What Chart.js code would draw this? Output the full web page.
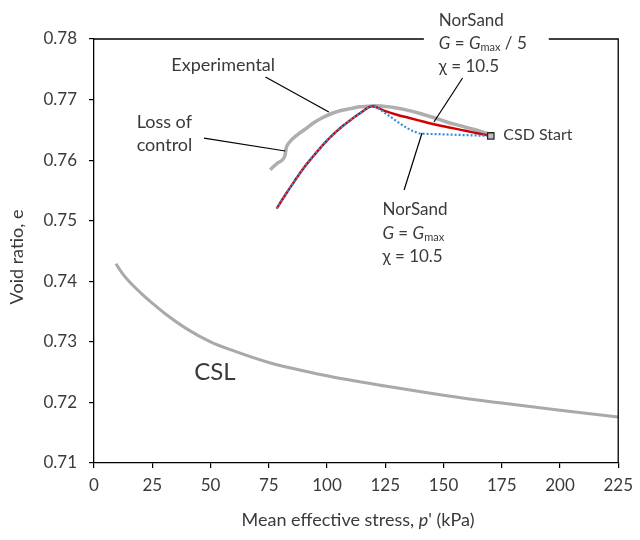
<!DOCTYPE html>
<html>
<head>
<meta charset="utf-8">
<script src="https://cdn.jsdelivr.net/npm/chart.js@4"></script>
<style>
html,body{margin:0;padding:0;background:#fff;}
#wrap{width:640px;height:540px;}
</style>
</head>
<body>
<div id="wrap"><canvas id="c" width="640" height="540"></canvas></div>
<script>
// ---- data ----
const xTicks = [0, 25, 50, 75, 100, 125, 150, 175, 200, 225];
const yTicks = [0.71, 0.72, 0.73, 0.74, 0.75, 0.76, 0.77, 0.78];

const cslP = [9.4, 12, 15, 20, 25, 30, 40, 50, 60, 75, 100, 125, 150, 175, 200, 225];
const cslE = [0.7429, 0.7414, 0.7400, 0.7381, 0.7364, 0.7348, 0.7321, 0.7300, 0.7285, 0.7266, 0.7244, 0.7227, 0.7212, 0.7199, 0.7187, 0.7176];

const expP = [75.6, 79, 82, 82.5, 84, 87, 90.6, 94, 98, 102, 106, 110, 114, 118, 120.2, 124, 128.7, 134, 140, 146, 151.4, 157, 162.8, 169.7];
const expE = [0.7584, 0.7596, 0.7608, 0.7620, 0.7630, 0.7641, 0.7651, 0.7661, 0.7670, 0.7677, 0.7682, 0.7685, 0.7688, 0.7689, 0.7690, 0.7689, 0.7687, 0.7683, 0.7677, 0.7670, 0.7663, 0.7657, 0.7651, 0.7643];

const ns5P = [78.4, 82, 86, 90, 94, 98, 102, 106, 110, 114, 119.5, 125, 130, 135, 140, 145, 150, 155, 160, 165, 170.3];
const ns5E = [0.7520, 0.7542, 0.7565, 0.7587, 0.7606, 0.7624, 0.7640, 0.7654, 0.7666, 0.7677, 0.7689, 0.7681, 0.7675, 0.7670, 0.7665, 0.7660, 0.7656, 0.7652, 0.7648, 0.7644, 0.7640];

const ns1P = [78.4, 82, 86, 90, 94, 98, 102, 106, 110, 114, 119.5, 125.9, 130, 134.4, 137, 140, 147, 154, 162, 170.3];
const ns1E = [0.7520, 0.7542, 0.7565, 0.7587, 0.7606, 0.7624, 0.7640, 0.7654, 0.7666, 0.7677, 0.7689, 0.7675, 0.7664, 0.7653, 0.7648, 0.7644, 0.7643, 0.7642, 0.7641, 0.7640];

const csdStartP = [170.3];
const csdStartE = [0.7640];

// ---- build datasets ----
const pts = (xs, ys) => xs.map((x, i) => ({x: x, y: ys[i]}));

const FONT = 'Lato, "Open Sans", sans-serif';
const TXT = '#3a3a3a';

const lineDs = (label, xs, ys, color, width, extra) => Object.assign({
  label: label, data: pts(xs, ys), borderColor: color, borderWidth: width,
  showLine: true, pointRadius: 0, cubicInterpolationMode: 'monotone'
}, extra || {});

const datasets = [
  lineDs('CSL', cslP, cslE, '#A9A9A9', 3, {order: 5}),
  lineDs('Experimental', expP, expE, '#AEAEAE', 3.5, {order: 4}),
  lineDs('NorSand G=Gmax/5', ns5P, ns5E, '#D40000', 2.5, {order: 3}),
  lineDs('NorSand G=Gmax', ns1P, ns1E, '#2F8FDB', 2.2, {order: 2, borderDash: [2, 2]}),
  {label: 'CSD Start', data: pts(csdStartP, csdStartE), showLine: false, pointStyle: 'rect', pointRadius: 4.5, backgroundColor: '#BFBFBF', borderColor: '#262626', borderWidth: 1.3, order: 1}
];

// ---- annotations (data coordinates) ----
const notes = [
  {lines: ['Experimental'], p: 33.2, e: 0.77571, size: 18},
  {lines: ['Loss of', 'control'], p: 18.3, e: 0.76630, size: 18, lh: 0.0038},
  {lines: ['CSD Start'], p: 175.7, e: 0.76415, size: 16},
  {lines: ['CSL'], p: 43.0, e: 0.72502, size: 24}
];
const leaders = [
  [73.6, 0.77373, 100.8, 0.76795],
  [47.2, 0.76365, 82.1, 0.76151],
  [158.2, 0.77356, 145.9, 0.76630],
  [140.8, 0.76448, 133.1, 0.75507]
];
const nsTop = {p: 148.0, e: [0.78297, 0.77926, 0.77546], gap: [141.6, 195.2], div: '5'};
const nsBot = {p: 123.8, e: [0.75177, 0.74789, 0.74409], div: null};

const deco = {
  id: 'deco',
  afterDraw(chart) {
    const ctx = chart.ctx, xs = chart.scales.x, ys = chart.scales.y, ca = chart.chartArea;
    const X = v => xs.getPixelForValue(v), Y = v => ys.getPixelForValue(v);
    ctx.save();
    // frame: right + top with gap
    ctx.strokeStyle = '#000'; ctx.lineWidth = 1.3;
    ctx.beginPath();
    ctx.moveTo(ca.right, ca.bottom); ctx.lineTo(ca.right, ca.top); ctx.lineTo(X(nsTop.gap[1]), ca.top);
    ctx.moveTo(X(nsTop.gap[0]), ca.top); ctx.lineTo(ca.left, ca.top);
    ctx.stroke();
    // leader lines
    ctx.strokeStyle = '#000'; ctx.lineWidth = 1.2;
    leaders.forEach(l => { ctx.beginPath(); ctx.moveTo(X(l[0]), Y(l[1])); ctx.lineTo(X(l[2]), Y(l[3])); ctx.stroke(); });
    // text notes
    ctx.fillStyle = TXT; ctx.textBaseline = 'middle'; ctx.textAlign = 'left';
    notes.forEach(n => {
      ctx.font = n.size + 'px ' + FONT;
      n.lines.forEach((t, i) => ctx.fillText(t, X(n.p), Y(n.e - i * (n.lh || 0))));
    });
    // NorSand labels with rich text
    const drawNS = (o) => {
      const x0 = X(o.p), sz = 17;
      ctx.font = sz + 'px ' + FONT;
      ctx.fillText('NorSand', x0, Y(o.e[0]));
      let x = x0; const y = Y(o.e[1]);
      const seg = (t, font, dy) => { ctx.font = font; ctx.fillText(t, x, y + (dy || 0)); x += ctx.measureText(t).width; };
      seg('G', 'italic ' + sz + 'px ' + FONT);
      seg(' = ', sz + 'px ' + FONT);
      seg('G', 'italic ' + sz + 'px ' + FONT);
      seg('max', '11px ' + FONT, 4);
      if (o.div) seg(' / ' + o.div, sz + 'px ' + FONT);
      ctx.font = sz + 'px ' + FONT;
      ctx.fillText('\u03C7 = 10.5', x0, Y(o.e[2]));
    };
    drawNS(nsTop); drawNS(nsBot);
    // axis titles
    ctx.font = '18px ' + FONT; ctx.fillStyle = TXT;
    ctx.save();
    ctx.translate(17, 257); ctx.rotate(-Math.PI / 2); ctx.textAlign = 'center';
    ctx.fillText('Void ratio, e', 0, 0);
    ctx.restore();
    const parts = [['Mean effective stress, ', ''], ["p", 'italic '], ["' (kPa)", '']];
    let w = 0; parts.forEach(p => { ctx.font = p[1] + '18px ' + FONT; w += ctx.measureText(p[0]).width; });
    let x = 358 - w / 2;
    ctx.textAlign = 'left';
    parts.forEach(p => { ctx.font = p[1] + '18px ' + FONT; ctx.fillText(p[0], x, 520); x += ctx.measureText(p[0]).width; });
    ctx.restore();
  }
};

new Chart(document.getElementById('c'), {
  type: 'scatter',
  data: {datasets: datasets},
  options: {
    responsive: false, animation: false,
    layout: {padding: {left: 0, right: 17, top: 39, bottom: 0}},
    plugins: {legend: {display: false}, tooltip: {enabled: false}},
    scales: {
      x: {
        type: 'linear', min: 0, max: 225,
        afterBuildTicks: s => { s.ticks = xTicks.map(v => ({value: v})); },
        afterFit: s => { s.height = 77; },
        grid: {drawOnChartArea: false, color: '#000', tickLength: 5, lineWidth: 1.2},
        border: {display: true, color: '#000', width: 1.3},
        ticks: {color: TXT, font: {family: FONT, size: 17}, padding: 7, maxRotation: 0}
      },
      y: {
        type: 'linear', min: 0.71, max: 0.78,
        afterBuildTicks: s => { s.ticks = yTicks.map(v => ({value: v})); },
        afterFit: s => { s.width = 94; },
        grid: {drawOnChartArea: false, color: '#000', tickLength: 5, lineWidth: 1.2},
        border: {display: true, color: '#000', width: 1.3},
        ticks: {color: TXT, font: {family: FONT, size: 17}, padding: 12, callback: v => v.toFixed(2)}
      }
    }
  },
  plugins: [deco]
});
</script>
</body>
</html>
